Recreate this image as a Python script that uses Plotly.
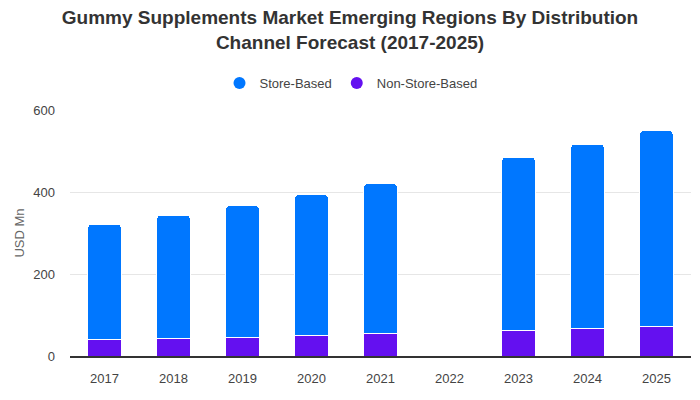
import plotly.graph_objects as go

years = ["2017", "2018", "2019", "2020", "2021", "2022", "2023", "2024", "2025"]
non_store = [39.5, 42, 44.5, 50, 54, None, 61.5, 66, 71]
store = [281, 300.5, 322, 343.5, 366, None, 422.5, 451, 478]

blue = "#0077ff"
purple = "#6410f0"

fig = go.Figure()
fig.add_trace(go.Bar(x=years, y=non_store, name="Non-Store-Based", marker=dict(color=purple, line=dict(color="white", width=1)), showlegend=False))
fig.add_trace(go.Bar(x=years, y=store, name="Store-Based", marker=dict(color=blue, line=dict(color="white", width=1)), showlegend=False))
# legend entries with circle markers
fig.add_trace(go.Scatter(x=[None], y=[None], mode="markers", name="Store-Based",
                         marker=dict(color=blue, size=13, symbol="circle")))
fig.add_trace(go.Scatter(x=[None], y=[None], mode="markers", name="Non-Store-Based",
                         marker=dict(color=purple, size=13, symbol="circle")))

fig.update_layout(
    width=700, height=400,
    barmode="stack", bargap=0.52, barcornerradius=3,
    font=dict(family="Liberation Sans, Arial, sans-serif", color="#444", size=13),
    title=dict(text="<b>Gummy Supplements Market Emerging Regions By Distribution<br>Channel Forecast (2017-2025)</b>",
               x=0.5, xanchor="center", y=0.94, yanchor="top", font=dict(size=19, color="#333")),
    legend=dict(orientation="h", x=0.4525, xanchor="center", y=1.11, yanchor="middle", traceorder="normal",
                font=dict(size=13, color="#444"), itemsizing="constant", itemwidth=30),
    margin=dict(l=70, r=9, t=110, b=44),
    plot_bgcolor="white", paper_bgcolor="white",
    xaxis=dict(type="category", showline=True, linecolor="#333", linewidth=1.5, ticks="", ticklabelstandoff=10,
               tickfont=dict(size=13, color="#444"), showgrid=False),
    yaxis=dict(range=[0, 600], tickvals=[0, 200, 400, 600], gridcolor="#e6e6e6", zeroline=False, ticklabelstandoff=14,
               title=dict(text="USD Mn", font=dict(size=13, color="#666"), standoff=5), tickfont=dict(size=13, color="#444"), ticks=""),
)

fig.write_html("out.html", post_script="document.body.style.margin='0';", config={"displayModeBar": False})
